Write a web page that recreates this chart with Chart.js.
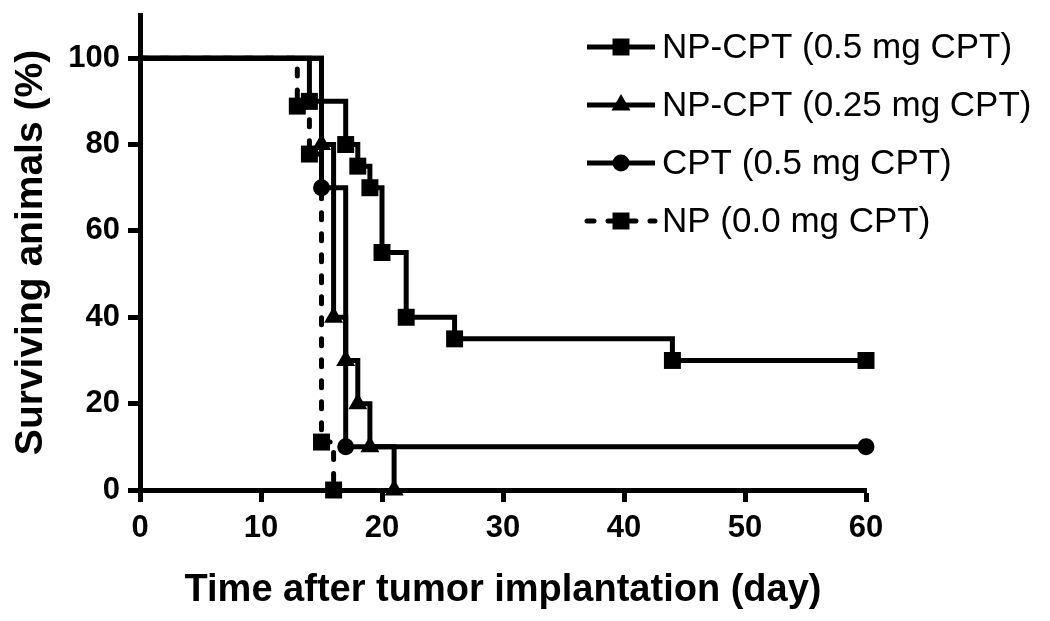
<!DOCTYPE html>
<html>
<head>
<meta charset="utf-8">
<title>Survival</title>
<script src="https://cdn.jsdelivr.net/npm/chart.js@4.4.1/dist/chart.umd.min.js"></script>
<style>
	html, body { margin: 0; padding: 0; background: #fff; }
	#wrap { width: 1050px; height: 621px; }
</style>
</head>
<body>
<div id="wrap"><canvas id="survival" width="1050" height="621"></canvas></div>
<script>
// day of each step and % of animals surviving from that day on
const highDoseDays = [0, 14, 17, 18, 19, 20, 22, 26, 44, 60];
const highDoseSurv = [100, 90, 80, 75, 70, 55, 40, 35, 30, 30];
const lowDoseDays = [0, 15, 16, 17, 18, 19, 21];
const lowDoseSurv = [100, 80, 40, 30, 20, 10, 0];
const freeCptDays = [0, 15, 17, 60];
const freeCptSurv = [100, 70, 10, 10];
const blankNpDays = [0, 13, 14, 15, 16];
const blankNpSurv = [100, 88.9, 77.8, 11.1, 0];

const seriesLabels = ['NP-CPT (0.5 mg CPT)', 'NP-CPT (0.25 mg CPT)', 'CPT (0.5 mg CPT)', 'NP (0.0 mg CPT)'];
const xTicks = [0, 10, 20, 30, 40, 50, 60];
const yTicks = [0, 20, 40, 60, 80, 100];

const FONT = '"Liberation Sans", Arial, sans-serif';
Chart.defaults.font.family = FONT;
Chart.defaults.color = '#000';

function toPoints(days, surv) {
	return days.map((d, i) => ({ x: d, y: surv[i] }));
}

function stepSeries(label, days, surv, style, radius, dashed) {
	return {
		label: label,
		data: toPoints(days, surv),
		stepped: 'before',
		borderColor: '#000',
		backgroundColor: '#000',
		borderWidth: 5,
		borderDash: dashed ? [7, 14] : [],
		borderCapStyle: dashed ? 'round' : 'butt',
		pointStyle: style,
		// no symbol on the starting point at day 0
		pointRadius: (c) => c.dataIndex === 0 ? 0 : radius,
		pointHoverRadius: (c) => c.dataIndex === 0 ? 0 : radius,
		pointBorderWidth: 0,
		pointBackgroundColor: '#000',
		clip: false,
		fill: false
	};
}

// legend drawn as line sample + symbol, like the original figure
const stepLegend = {
	id: 'stepLegend',
	afterDraw(chart) {
		const ctx = chart.ctx;
		chart.data.datasets.forEach((ds, i) => {
			const y = 47 + i * 58;
			ctx.save();
			ctx.strokeStyle = '#000';
			ctx.fillStyle = '#000';
			ctx.lineWidth = 5;
			ctx.setLineDash(ds.borderDash);
			ctx.lineCap = ds.borderCapStyle;
			ctx.beginPath();
			ctx.moveTo(587, y);
			ctx.lineTo(655, y);
			ctx.stroke();
			ctx.setLineDash([]);
			const r = ds.pointStyle === 'rect' ? 12 : (ds.pointStyle === 'triangle' ? 11 : 8.5);
			Chart.helpers.drawPoint(ctx, { pointStyle: ds.pointStyle, radius: r, rotation: 0, borderWidth: 0 }, 621, y);
			ctx.font = '35px ' + FONT;
			ctx.textBaseline = 'middle';
			ctx.textAlign = 'left';
			ctx.fillText(ds.label, 662, y + 1);
			ctx.restore();
		});
	}
};

new Chart(document.getElementById('survival'), {
	type: 'line',
	data: {
		datasets: [
			stepSeries(seriesLabels[0], highDoseDays, highDoseSurv, 'rect', 12, false),
			stepSeries(seriesLabels[1], lowDoseDays, lowDoseSurv, 'triangle', 11, false),
			stepSeries(seriesLabels[2], freeCptDays, freeCptSurv, 'circle', 8.5, false),
			stepSeries(seriesLabels[3], blankNpDays, blankNpSurv, 'rect', 12, true)
		]
	},
	options: {
		responsive: false,
		animation: false,
		layout: { padding: { top: 15, right: 184, bottom: 0, left: 0 } },
		plugins: {
			legend: { display: false },
			tooltip: { enabled: false }
		},
		scales: {
			x: {
				type: 'linear',
				min: 0,
				max: 60,
				afterFit: (s) => { s.height = 131; },
				afterBuildTicks: (s) => { s.ticks = xTicks.map(v => ({ value: v })); },
				border: { display: true, color: '#000', width: 5 },
				grid: { display: true, drawOnChartArea: false, drawTicks: true, tickLength: 12, tickWidth: 5, color: '#000' },
				ticks: { color: '#000', font: { size: 31, weight: 'bold' }, padding: 8, maxRotation: 0 },
				title: {
					display: true,
					text: 'Time after tumor implantation (day)',
					color: '#000',
					font: { size: 38, weight: 'bold' },
					padding: { top: 0, bottom: 8 }
				}
			},
			y: {
				type: 'linear',
				min: 0,
				max: 110,
				afterFit: (s) => {
					s.width = 140;
					// axis line runs above the 100 tick, so no label room needed at the top
					s.paddingTop = 0;
					s.paddingBottom = 0;
				},
				afterBuildTicks: (s) => { s.ticks = yTicks.map(v => ({ value: v })); },
				border: { display: true, color: '#000', width: 5 },
				grid: { display: true, drawOnChartArea: false, drawTicks: true, tickLength: 12, tickWidth: 5, color: '#000' },
				ticks: { color: '#000', font: { size: 31, weight: 'bold' }, padding: 8 },
				title: {
					display: true,
					text: 'Surviving animals (%)',
					color: '#000',
					font: { size: 39, weight: 'bold' },
					padding: { top: 8, bottom: 0 }
				}
			}
		}
	},
	plugins: [stepLegend]
});
</script>
</body>
</html>
